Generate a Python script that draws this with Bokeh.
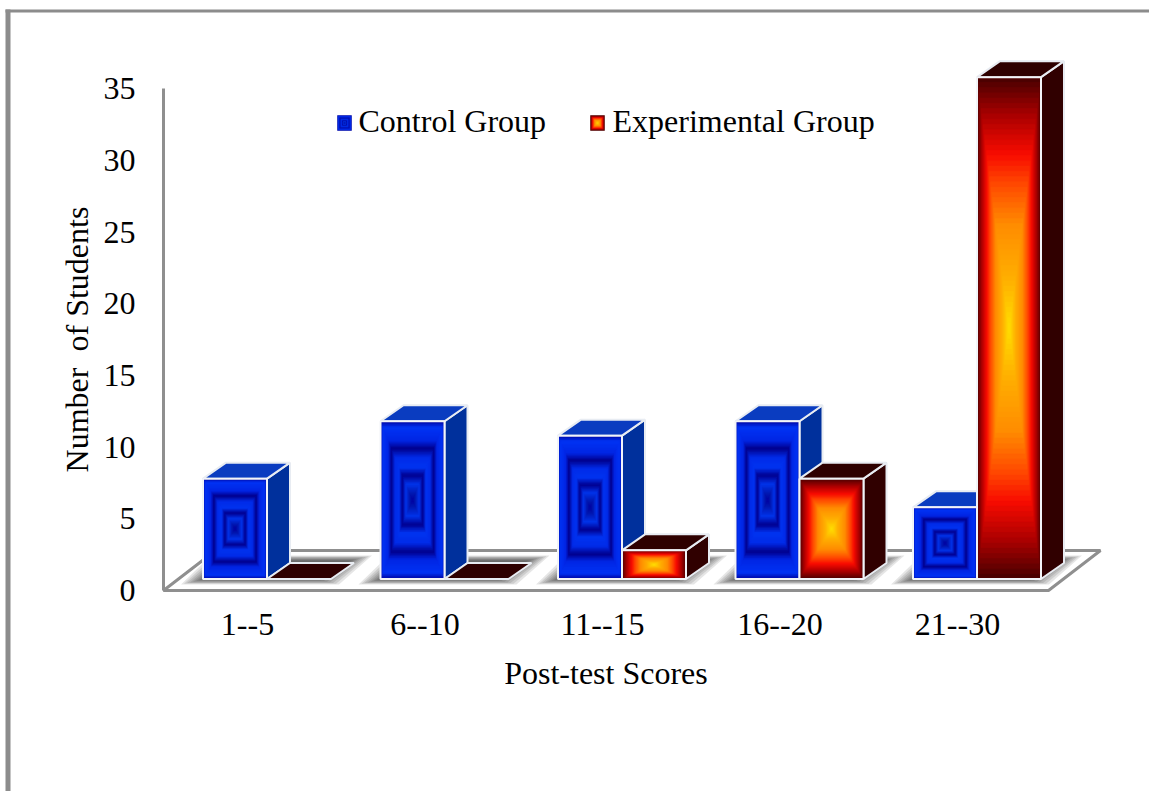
from bokeh.core.properties import value
from bokeh.embed import file_html
from bokeh.models import FixedTicker, Range1d
from bokeh.plotting import figure
from bokeh.resources import INLINE

categories = ["1--5", "6--10", "11--15", "16--20", "21--30"]
control_group = [7, 11, 10, 11, 5]
experimental_group = [0, 0, 2, 7, 35]
y_ticks = [0, 5, 10, 15, 20, 25, 30, 35]
x_title = "Post-test Scores"
y_title = "Number\u00a0 of Students"
legend_names = ["Control Group", "Experimental Group"]

W, H = 1149, 791
X0_PX, X_STEP = 247.0, 177.5    # pixel of category 0 on the floor's front edge, pixels per category
Y0_PX, Y_STEP = 590.0, 14.34    # pixel of value 0 on the axis, pixels per unit
FONT = "Liberation Serif"
GREY = "#8f8f8f"


def dx(px):
    return (px - X0_PX) / X_STEP


def dy(py):
    return (Y0_PX - py) / Y_STEP


BAR_W = 64 / X_STEP
DEPTH_X = 23 / X_STEP
DEPTH_Y = 16 / Y_STEP
BASE = 0.8            # bars stand on the floor, slightly above the axis zero
SEAM = 19.5 / X_STEP  # shift from the category position to the seam between its two bars

BLUE_STOPS = [(0.0, "#0006a4"), (0.07, "#0034f4"), (0.24, "#0026e4"), (0.34, "#00008c"),
              (0.45, "#002ce8"), (0.58, "#0034f0"), (0.68, "#000090"), (0.79, "#0034ea"),
              (0.91, "#0018b0"), (1.0, "#0000a0")]
FIRE_STOPS = [(0.0, "#4c0000"), (0.14, "#a80000"), (0.3, "#f80c00"), (0.42, "#ff4a00"),
              (0.58, "#ff8c00"), (0.8, "#ffb000"), (1.0, "#ffe000")]
BLUE_FACES = ("#0a3cc0", "#00309c")
FIRE_FACES = ("#2e0000", "#300000")


def ramp(stops, s):
    for (s0, c0), (s1, c1) in zip(stops, stops[1:]):
        if s <= s1:
            t = (s - s0) / (s1 - s0)
            a = [int(c0[i:i + 2], 16) for i in (1, 3, 5)]
            b = [int(c1[i:i + 2], 16) for i in (1, 3, 5)]
            return "#%02x%02x%02x" % tuple(round(p + (q - p) * t) for p, q in zip(a, b))
    return stops[-1][1]


p = figure(width=W, height=H, output_backend="svg", toolbar_location=None,
           x_range=Range1d(dx(0), dx(W)), y_range=Range1d(dy(H), dy(0)),
           min_border=0, outline_line_color=None, background_fill_color="white")
p.grid.visible = False

# page frame
p.quad(left=[dx(5), dx(5)], right=[dx(10), dx(W)], top=[dy(9), dy(9)], bottom=[dy(H), dy(12)],
       color="#8c8c8c", line_color=None)

# floor
p.patch([dx(163), dx(1048), dx(1100), dx(215)], [dy(590), dy(590), dy(550), dy(550)],
        fill_color="white", line_color=GREY, line_width=3)


def nested(left, right, bottom, top, stops, steps=48):
    """Concentric rectangles shrinking to the centre, making a rectangular path gradient."""
    cx, cy = (left + right) / 2, (bottom + top) / 2
    l, r, b, t, c = [], [], [], [], []
    for k in range(steps):
        s = k / steps
        l.append(left + (cx - left) * s)
        r.append(right - (right - cx) * s)
        b.append(bottom + (cy - bottom) * s)
        t.append(top - (top - cy) * s)
        c.append(ramp(stops, s))
    p.quad(left=l, right=r, bottom=b, top=t, fill_color=c, line_color=c, line_width=0.5)


def bar(left, val, stops, faces):
    right, top = left + BAR_W, BASE + val
    if val > 0:
        p.patch([right, right + DEPTH_X, right + DEPTH_X, right],
                [BASE, BASE + DEPTH_Y, top + DEPTH_Y, top],
                fill_color=faces[1], line_color="#e8ecf2", line_width=2)
    p.patch([left, right, right + DEPTH_X, left + DEPTH_X],
            [top, top, top + DEPTH_Y, top + DEPTH_Y],
            fill_color=faces[0], line_color="#e8ecf2", line_width=2)
    if val > 0:
        nested(left, right, BASE, top, stops)
        p.quad(left=[left], right=[right], bottom=[BASE], top=[top],
               fill_color=None, line_color="#f2f4f8", line_width=2)


# soft shadows falling on the floor under each cluster
for i in range(len(categories)):
    seam = i + SEAM
    far = seam + BAR_W + DEPTH_X
    near = seam - BAR_W
    for k in range(8):
        inset = k * 3 / X_STEP
        lift = k * 0.7 / Y_STEP
        p.patch([near - 22 / X_STEP + inset, seam + BAR_W + 8 / X_STEP - inset,
                 far + 18 / X_STEP - inset, near + 8 / X_STEP + inset],
                [dy(584) + lift, dy(584) + lift, dy(555) - lift, dy(555) - lift],
                fill_color="#000000", fill_alpha=0.1, line_color=None)

# bars, left to right so that nearer faces overlap correctly
for i in range(len(categories)):
    seam = i + SEAM
    bar(seam - BAR_W, control_group[i], BLUE_STOPS, BLUE_FACES)
    bar(seam, experimental_group[i], FIRE_STOPS, FIRE_FACES)

# axes
xaxis, yaxis = p.xaxis[0], p.yaxis[0]
xaxis.fixed_location = 0
yaxis.fixed_location = dx(163)
xaxis.bounds = (dx(163), dx(1048))
yaxis.bounds = (0, 35)
xaxis.ticker = FixedTicker(ticks=list(range(len(categories))))
xaxis.major_label_overrides = {i: c for i, c in enumerate(categories)}
yaxis.ticker = FixedTicker(ticks=y_ticks)
for axis in (xaxis, yaxis):
    axis.axis_line_color = GREY
    axis.axis_line_width = 3
    axis.major_tick_line_color = None
    axis.minor_tick_line_color = None
    axis.major_label_text_font = FONT
    axis.major_label_text_font_size = "32px"
    axis.major_label_text_color = "black"
    axis.axis_label_text_font = FONT
    axis.axis_label_text_font_size = "32px"
    axis.axis_label_text_font_style = "normal"
    axis.axis_label_text_color = "black"
xaxis.axis_label = x_title
yaxis.axis_label = y_title
xaxis.major_label_standoff = 17
xaxis.axis_label_standoff = 17
yaxis.major_label_standoff = 22
yaxis.axis_label_standoff = 6
yaxis.major_label_orientation = "horizontal"

# legend row
for name, stops, sq, tx in zip(legend_names, (BLUE_STOPS, FIRE_STOPS), (337, 590), (358, 612)):
    nested(dx(sq), dx(sq + 14), dy(130), dy(115), stops, steps=10)
    p.text(x=[dx(tx)], y=[dy(120)], text=[name], text_font=value(FONT), text_font_size="32px",
           text_baseline="middle", text_align="left", text_color="black")

open("out.html", "w").write(file_html(p, INLINE))
